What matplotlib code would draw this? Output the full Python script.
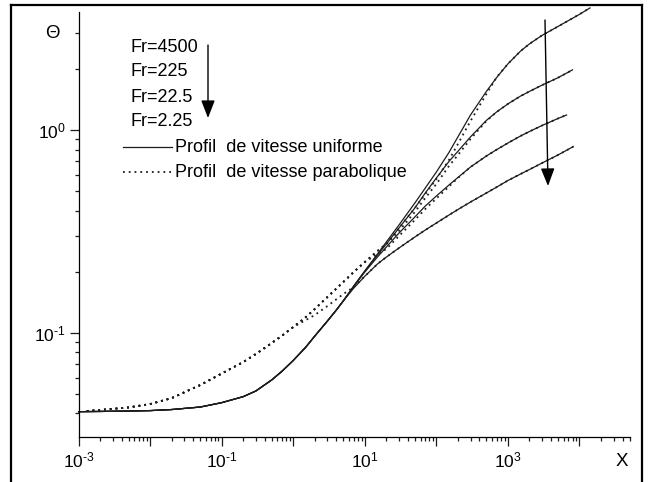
import math
import matplotlib
matplotlib.use('Agg')
import matplotlib.pyplot as plt
from matplotlib.lines import Line2D
from matplotlib import ticker

plt.rcParams['font.family'] = ['Liberation Sans', 'DejaVu Sans']
plt.rcParams['mathtext.fontset'] = 'custom'
plt.rcParams['mathtext.rm'] = 'Liberation Sans'
plt.rcParams['mathtext.it'] = 'Liberation Sans:italic'
plt.rcParams['mathtext.bf'] = 'Liberation Sans:bold'

# values
# uniform velocity profile (solid): shared start, then one tail per Fr
x_uni_common = [1e-3, 2e-3, 5e-3, 1e-2, 2e-2, 5e-2, 0.1, 0.2, 0.3, 0.5, 0.7, 1, 1.5, 2, 3, 4, 5]
th_uni_common = [0.0408, 0.0409, 0.0411, 0.0413, 0.0418, 0.0430, 0.0452, 0.0484, 0.0516,
                 0.0585, 0.0647, 0.0730, 0.0850, 0.0963, 0.1142, 0.1294, 0.1435]

x_uni_4500 = [7, 10, 15, 20, 30, 50, 70, 100, 150, 200, 300, 500, 700, 1000, 1500, 2000,
              3000, 5000, 1e4, 1.4e4]
th_uni_4500 = [0.1699, 0.2016, 0.2444, 0.2803, 0.3399, 0.4363, 0.5174, 0.6206, 0.775, 0.925,
               1.186, 1.55, 1.82, 2.12, 2.45, 2.66, 2.93, 3.24, 3.72, 4.0]
x_uni_225 = [7, 10, 15, 20, 30, 50, 70, 100, 150, 200, 300, 500, 700, 1000, 1500, 2000,
             3000, 5000, 8000]
th_uni_225 = [0.1699, 0.2016, 0.2416, 0.2739, 0.3285, 0.4123, 0.489, 0.58, 0.70, 0.785,
              0.925, 1.115, 1.23, 1.345, 1.47, 1.55, 1.665, 1.81, 1.98]
x_uni_22 = [7, 10, 15, 20, 30, 50, 70, 100, 150, 200, 300, 500, 700, 1000, 1500, 2000,
            3000, 5000, 6600]
th_uni_22 = [0.1690, 0.1993, 0.2362, 0.2647, 0.3102, 0.3722, 0.4217, 0.4725, 0.5355, 0.5831,
             0.6569, 0.7443, 0.8012, 0.8627, 0.9342, 0.9831, 1.0524, 1.1395, 1.186]
x_uni_2 = [7, 10, 15, 20, 30, 50, 70, 100, 150, 200, 300, 500, 700, 1000, 1500, 2000,
           3000, 5000, 8000]
th_uni_2 = [0.166, 0.190, 0.2183, 0.2362, 0.2618, 0.2966, 0.3211, 0.3477, 0.3807, 0.4054,
            0.4414, 0.4890, 0.5234, 0.5634, 0.6066, 0.6384, 0.6873, 0.7527, 0.8243]

# parabolic velocity profile (dotted)
x_par_common = [1.3e-3, 2e-3, 5e-3, 1e-2, 2e-2, 5e-2, 0.1, 0.2, 0.3, 0.5, 0.7, 1]
th_par_common = [0.0411, 0.0416, 0.0428, 0.0445, 0.0476, 0.0552, 0.0629, 0.0717, 0.0785,
                 0.0890, 0.0969, 0.1067]
x_par_upper = [1.5, 2, 3, 5, 7, 10]
th_par_upper = [0.1195, 0.1310, 0.1500, 0.1779, 0.1993, 0.2233]

x_par_4500 = [15, 20, 30, 50, 70, 100, 150, 200, 300, 500, 700, 1000, 1500, 2000, 3000,
              5000, 1e4, 1.4e4]
th_par_4500 = [0.2530, 0.2739, 0.3285, 0.4123, 0.4833, 0.5732, 0.7112, 0.8530, 1.1076,
               1.505, 1.826, 2.12, 2.45, 2.66, 2.93, 3.24, 3.72, 4.0]
x_par_225 = [15, 20, 30, 50, 70, 100, 150, 200, 300, 500, 700, 1000, 1500, 2000, 3000,
             5000, 8000]
th_par_225 = [0.2530, 0.2739, 0.3175, 0.3939, 0.4620, 0.5416, 0.6644, 0.7527, 0.9029,
              1.1076, 1.23, 1.345, 1.47, 1.55, 1.665, 1.81, 1.98]
x_par_22 = [15, 20, 30, 50, 70, 100, 150, 200, 300, 500, 700, 1000, 1500, 2000, 3000,
            5000, 6600]
th_par_22 = [0.2444, 0.2588, 0.3000, 0.3597, 0.4076, 0.4594, 0.5264, 0.5798, 0.6569,
             0.7443, 0.8012, 0.8627, 0.9342, 0.9831, 1.0524, 1.1395, 1.186]
x_par_2 = [1.5, 2, 3, 5, 7, 10, 15, 20, 30, 50, 70, 100, 150, 200, 300, 500, 700, 1000,
           1500, 2000, 3000, 5000, 8000, 9100]
th_par_2 = [0.1155, 0.1223, 0.1354, 0.1552, 0.1680, 0.190, 0.2183, 0.2362, 0.2618, 0.2966,
            0.3211, 0.3477, 0.3807, 0.4054, 0.4414, 0.4890, 0.5234, 0.5634, 0.6066, 0.6384,
            0.6873, 0.7527, 0.8243, 0.848]

fr_labels = ['Fr=4500', 'Fr=225', 'Fr=22.5', 'Fr=2.25']
legend_labels = ['Profil  de vitesse uniforme', 'Profil  de vitesse parabolique']

W, H = 652, 482
fig = plt.figure(figsize=(W / 100, H / 100), dpi=100)


def fp(px, py):
    # picture pixel -> figure fraction
    return (px / W, 1 - py / H)


ax = fig.add_axes([78.6 / W, 1 - 437 / H, (629.5 - 78.6) / W, (437 - 12) / H])

ink = '#1c1c1c'
dots = (0, (1, 2.2))

uni = [(x_uni_4500, th_uni_4500), (x_uni_225, th_uni_225), (x_uni_22, th_uni_22),
       (x_uni_2, th_uni_2)]
for xs, ys in uni:
    ax.plot(x_uni_common + xs, th_uni_common + ys, color=ink, lw=0.9, clip_on=False)

par = [(x_par_upper + x_par_4500, th_par_upper + th_par_4500),
       (x_par_upper + x_par_225, th_par_upper + th_par_225),
       (x_par_upper + x_par_22, th_par_upper + th_par_22),
       (x_par_2, th_par_2)]
for xs, ys in par:
    ax.plot(x_par_common + xs, th_par_common + ys, color=ink, lw=1.3, linestyle=dots,
            clip_on=False)

ax.set_xscale('log')
ax.set_yscale('log')
ax.set_xlim(1e-3, 5e4)
ax.set_ylim(0.0306, 3.82)

for s in ['top', 'right']:
    ax.spines[s].set_visible(False)
for s in ['left', 'bottom']:
    ax.spines[s].set_linewidth(0.9)


def dec_label(v):
    e = int(round(math.log10(v)))
    if e < 0:
        return r'$\mathregular{10^{\text{-}%d}}$' % (-e)
    return r'$\mathregular{10^{%d}}$' % e


ax.xaxis.set_major_locator(ticker.LogLocator(base=10, numticks=20))
ax.xaxis.set_minor_locator(ticker.LogLocator(base=10, subs=range(2, 10), numticks=20))
ax.xaxis.set_major_formatter(ticker.FuncFormatter(
    lambda v, p: dec_label(v) if int(round(math.log10(v))) % 2 else ''))
ax.xaxis.set_minor_formatter(ticker.NullFormatter())
ax.yaxis.set_major_locator(ticker.LogLocator(base=10, numticks=20))
ax.yaxis.set_minor_locator(ticker.LogLocator(base=10, subs=range(2, 10), numticks=20))
ax.yaxis.set_major_formatter(ticker.FuncFormatter(lambda v, p: dec_label(v)))
ax.yaxis.set_minor_formatter(ticker.NullFormatter())
ax.tick_params(which='major', length=6.5, width=0.9, labelsize=12.5, color=ink, pad=3)
ax.tick_params(which='minor', length=3, width=0.9, color=ink)

fig.text(*fp(52, 33), '\u0398', fontsize=13.5, ha='center', va='center')
fig.text(*fp(622, 462), 'X', fontsize=13.5, ha='center', va='center')

# legend block
for lab, py in zip(fr_labels, [47, 71, 97, 122]):
    fig.text(*fp(130, py), lab, fontsize=13, ha='left', va='center')
fig.add_artist(Line2D([123 / W, 172 / W], [1 - 147 / H] * 2, transform=fig.transFigure,
                      color=ink, lw=0.9))
fig.add_artist(Line2D([123 / W, 172 / W], [1 - 172 / H] * 2, transform=fig.transFigure,
                      color=ink, lw=1.3, linestyle=dots))
fig.text(*fp(175, 147), legend_labels[0], fontsize=13, ha='left', va='center')
fig.text(*fp(175, 172), legend_labels[1], fontsize=13, ha='left', va='center')

arrow = dict(arrowstyle='-|>,head_length=0.9,head_width=0.35', color='k', lw=1.0,
             mutation_scale=12, shrinkA=0, shrinkB=0)
ax.annotate('', xy=fp(208, 118), xytext=fp(208, 45), xycoords='figure fraction',
            textcoords='figure fraction', arrowprops=arrow)
ax.annotate('', xy=fp(548, 186), xytext=fp(545, 20), xycoords='figure fraction',
            textcoords='figure fraction', arrowprops=arrow)

# outer frame, open at the bottom
for xs, ys in [([11, 642], [5, 5]), ([11, 11], [5, 482]), ([642, 642], [5, 482])]:
    fig.add_artist(Line2D([v / W for v in xs], [1 - v / H for v in ys],
                          transform=fig.transFigure, color='k', lw=1.6))

fig.savefig('out.png', dpi=100)
